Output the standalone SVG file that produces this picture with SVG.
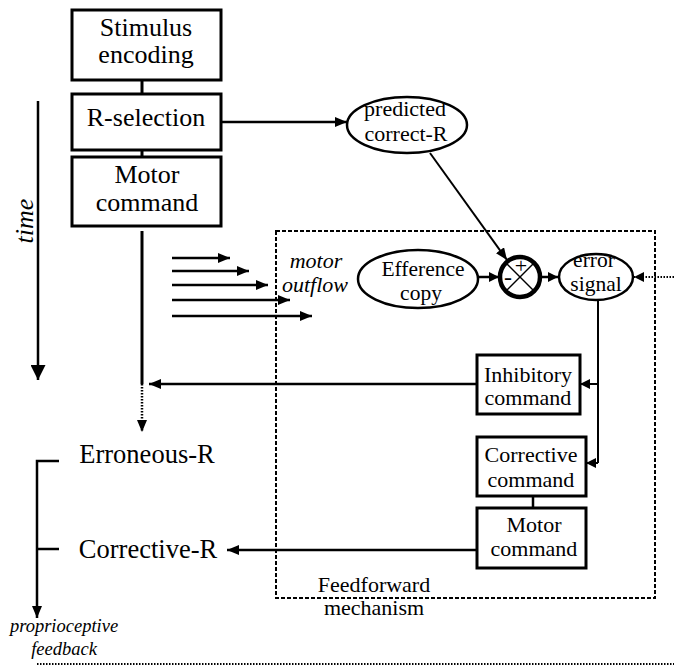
<svg xmlns="http://www.w3.org/2000/svg" width="674" height="669" viewBox="0 0 674 669" font-family="'Liberation Serif', 'Times New Roman', serif">
<style>
.box{fill:#fff;stroke:#000;stroke-width:3}
.ell{fill:#fff;stroke:#000;stroke-width:2.5}
text{font-family:'Liberation Serif','Times New Roman',serif;fill:#000;text-anchor:middle}
.big{font-size:26px}
.rr{font-size:26.5px}
.mid{font-size:22px}
.sm{font-size:21.5px}
.it{font-style:italic}
.ln{stroke:#000;fill:none;stroke-width:2.5}
.thin{stroke:#000;fill:none;stroke-width:2}
.dot{stroke:#000;fill:none;stroke-width:2;stroke-dasharray:1.5 1.5}
.dash{stroke:#000;fill:none;stroke-width:2;stroke-dasharray:4 2}
</style>
<defs>
<marker id="ah" viewBox="0 0 12 10" refX="12" refY="5" markerWidth="12" markerHeight="10" markerUnits="userSpaceOnUse" orient="auto">
<path d="M0,0 L12,5 L0,10 Z" fill="#000"/>
</marker>
<marker id="ahs" viewBox="0 0 10 10" refX="10" refY="5" markerWidth="10" markerHeight="10" markerUnits="userSpaceOnUse" orient="auto">
<path d="M0,0 L10,5 L0,10 Z" fill="#000"/>
</marker>
<marker id="ahb" viewBox="0 0 15 15" refX="15" refY="7.5" markerWidth="15" markerHeight="15" markerUnits="userSpaceOnUse" orient="auto">
<path d="M0,0 L15,7.5 L0,15 Z" fill="#000"/>
</marker>
</defs>

<g id="connectors">
<line class="ln" x1="142" y1="80" x2="142" y2="94" style="stroke-width:3"/>
<line class="ln" x1="142" y1="150" x2="142" y2="157" style="stroke-width:3"/>
<line class="ln" x1="221" y1="122" x2="347" y2="122" marker-end="url(#ah)"/>
<line class="thin" x1="430" y1="153" x2="507" y2="260" marker-end="url(#ah)"/>
<line class="ln" x1="478" y1="277" x2="499" y2="277" marker-end="url(#ahs)"/>
<line class="ln" x1="541" y1="277" x2="558" y2="277" marker-end="url(#ahs)"/>
<line class="dot" x1="674" y1="277" x2="634" y2="277" marker-end="url(#ahs)"/>
<line class="thin" x1="598" y1="299" x2="598" y2="463"/>
<line class="thin" x1="598" y1="384" x2="580" y2="384" marker-end="url(#ahs)"/>
<line class="thin" x1="598" y1="463" x2="586" y2="463" marker-end="url(#ahs)"/>
<line class="ln" x1="477" y1="384" x2="149" y2="384" marker-end="url(#ah)"/>
<line class="ln" x1="477" y1="550" x2="227" y2="550" marker-end="url(#ah)"/>
<line class="ln" x1="533" y1="496" x2="533" y2="508"/>
<line class="ln" x1="142" y1="231" x2="142" y2="384" style="stroke-width:3"/>
<line class="dot" x1="142" y1="384" x2="142" y2="432" style="stroke-width:2.5" marker-end="url(#ah)"/>
<line class="ln" x1="172" y1="258" x2="230" y2="258" marker-end="url(#ah)"/>
<line class="ln" x1="172" y1="271" x2="249" y2="271" marker-end="url(#ah)"/>
<line class="ln" x1="172" y1="285" x2="268" y2="285" marker-end="url(#ah)"/>
<line class="ln" x1="172" y1="300" x2="290" y2="300" marker-end="url(#ah)"/>
<line class="ln" x1="172" y1="316" x2="312" y2="316" marker-end="url(#ah)"/>
<line class="ln" x1="38" y1="101" x2="38" y2="380" marker-end="url(#ahb)"/>
<path class="ln" d="M59,461 H37 V618" marker-end="url(#ah)"/>
<line class="ln" x1="37" y1="549" x2="59" y2="549"/>
<line class="dot" x1="37" y1="664" x2="674" y2="664"/>
</g>

<g id="feedforward-box">
<rect class="dash" x="276" y="231" width="379" height="367"/>
<text class="mid" x="374" y="592">Feedforward</text>
<text class="mid" x="374" y="615">mechanism</text>
</g>

<g id="stimulus-encoding">
<rect class="box" x="72" y="10" width="149" height="70"/>
<text class="big" x="146" y="36">Stimulus</text>
<text class="big" x="146" y="63">encoding</text>
</g>
<g id="r-selection">
<rect class="box" x="72" y="94" width="149" height="56"/>
<text class="big" x="146" y="126">R-selection</text>
</g>
<g id="motor-command">
<rect class="box" x="72" y="157" width="149" height="69"/>
<text class="big" x="147" y="183">Motor</text>
<text class="big" x="147" y="211">command</text>
</g>

<g id="time">
<text class="it" style="font-size:26px" transform="translate(33,221) rotate(-90)">time</text>
</g>

<g id="predicted-correct-r">
<ellipse class="ell" cx="407" cy="125" rx="60" ry="28"/>
<text class="mid" x="405" y="116">predicted</text>
<text class="mid" x="406" y="141">correct-R</text>
</g>

<g id="motor-outflow">
<text class="mid it" x="316" y="268">motor</text>
<text class="mid it" x="315" y="292">outflow</text>
</g>

<g id="efference-copy">
<ellipse class="ell" cx="418" cy="279" rx="60" ry="29"/>
<text class="sm" x="423" y="276">Efference</text>
<text class="sm" x="421" y="300">copy</text>
</g>

<g id="comparator">
<circle cx="520" cy="277" r="20" fill="#fff" stroke="#000" stroke-width="4.5"/>
<line x1="506" y1="263" x2="534" y2="291" stroke="#000" stroke-width="1.5"/>
<line x1="534" y1="263" x2="506" y2="291" stroke="#000" stroke-width="1.5"/>
<text style="font-size:22px" x="521" y="273">+</text>
<text style="font-size:24px" x="508" y="285">-</text>
</g>

<g id="error-signal">
<ellipse class="ell" cx="596" cy="277" rx="37" ry="23"/>
<text class="sm" x="594" y="267">error</text>
<text class="sm" x="596" y="291">signal</text>
</g>

<g id="inhibitory-command">
<rect class="box" x="477" y="355" width="103" height="59"/>
<text class="mid" x="528" y="382">Inhibitory</text>
<text class="mid" x="528" y="405">command</text>
</g>
<g id="corrective-command">
<rect class="box" x="477" y="437" width="109" height="59"/>
<text class="mid" x="531" y="462">Corrective</text>
<text class="mid" x="531" y="487">command</text>
</g>
<g id="motor-command-2">
<rect class="box" x="477" y="508" width="109" height="60"/>
<text class="mid" x="534" y="532">Motor</text>
<text class="mid" x="534" y="556">command</text>
</g>

<g id="erroneous-r">
<text class="rr" x="147" y="463">Erroneous-R</text>
</g>
<g id="corrective-r">
<text class="rr" x="148" y="558">Corrective-R</text>
</g>
<g id="proprioceptive-feedback">
<text class="it" style="font-size:18.5px" x="64" y="632">proprioceptive</text>
<text class="it" style="font-size:18.5px" x="64" y="655">feedback</text>
</g>
</svg>
